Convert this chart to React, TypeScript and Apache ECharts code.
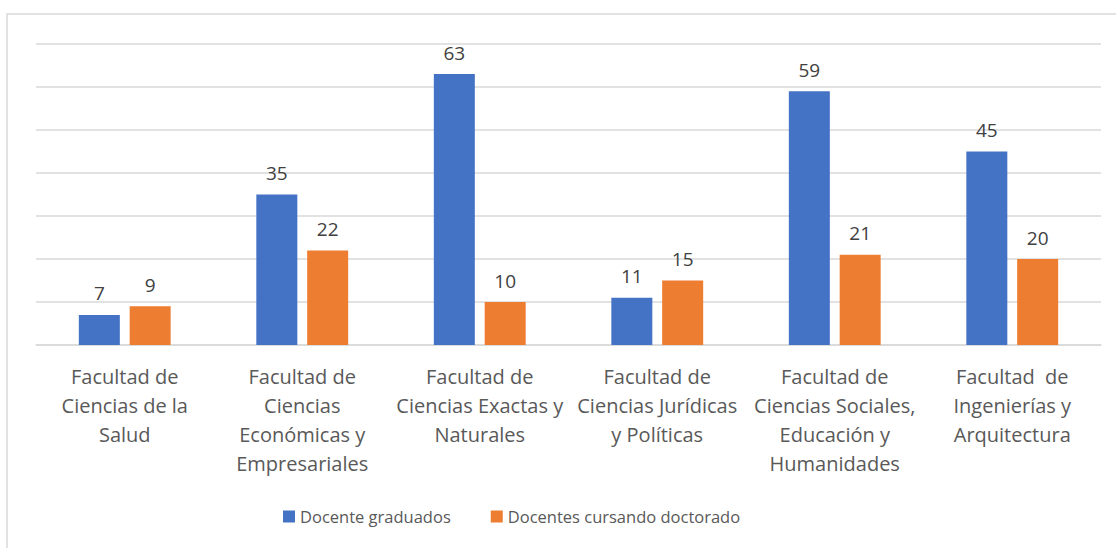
import React, { useEffect, useRef } from "react";
import * as echarts from "echarts";

const categories = [
  "Facultad de\nCiencias de la\nSalud",
  "Facultad de\nCiencias\nEconómicas y\nEmpresariales",
  "Facultad de\nCiencias Exactas y\nNaturales",
  "Facultad de\nCiencias Jurídicas\ny Políticas",
  "Facultad de\nCiencias Sociales,\nEducación y\nHumanidades",
  "Facultad  de\nIngenierías y\nArquitectura",
];
const graduados = [7, 35, 63, 11, 59, 45];
const doctorado = [9, 22, 10, 15, 21, 20];
const seriesNames = ["Docente graduados", "Docentes cursando doctorado"];

const FONT = "'Open Sans', 'Noto Sans', sans-serif";

export default function App() {
  const ref = useRef<HTMLDivElement>(null);
  useEffect(() => {
    if (!ref.current) return;
    const chart = echarts.init(ref.current, null, { renderer: "svg" });
    const label = {
      show: true,
      position: "top",
      distance: 12,
      color: "#404040",
      fontFamily: FONT,
      fontSize: 19,
    };
    chart.setOption({
      animation: false,
      backgroundColor: "#ffffff",
      graphic: [
        {
          type: "rect",
          shape: { x: 7, y: 14, width: 1120, height: 545 },
          style: { fill: "none", stroke: "#d9d9d9", lineWidth: 1.5 },
          silent: true,
        },
      ],
      grid: { left: 36, right: 15, top: 44, bottom: 203, containLabel: false },
      legend: {
        top: 503,
        left: 278,
        itemWidth: 12,
        itemHeight: 12,
        itemGap: 40,
        icon: "rect",
        textStyle: { color: "#595959", fontFamily: FONT, fontSize: 16.5 },
        data: seriesNames,
      },
      xAxis: {
        type: "category",
        data: categories,
        axisLine: { lineStyle: { color: "#d9d9d9", width: 1.5 } },
        axisTick: { show: false },
        axisLabel: {
          interval: 0,
          margin: 17,
          color: "#595959",
          fontFamily: FONT,
          fontSize: 20,
          lineHeight: 29,
        },
      },
      yAxis: {
        type: "value",
        min: 0,
        max: 70,
        interval: 10,
        axisLabel: { show: false },
        axisLine: { show: false },
        axisTick: { show: false },
        splitLine: { lineStyle: { color: "#d9d9d9", width: 1.5 } },
      },
      series: [
        {
          name: seriesNames[0],
          type: "bar",
          data: graduados,
          barWidth: 41,
          barGap: "24%",
          itemStyle: { color: "#4472C4" },
          label,
        },
        {
          name: seriesNames[1],
          type: "bar",
          data: doctorado,
          barWidth: 41,
          itemStyle: { color: "#ED7D31" },
          label,
        },
      ],
    });
    return () => chart.dispose();
  }, []);
  return (
    <div
      ref={ref}
      style={{ position: "fixed", left: 0, top: 0, width: 1116, height: 548 }}
    />
  );
}
